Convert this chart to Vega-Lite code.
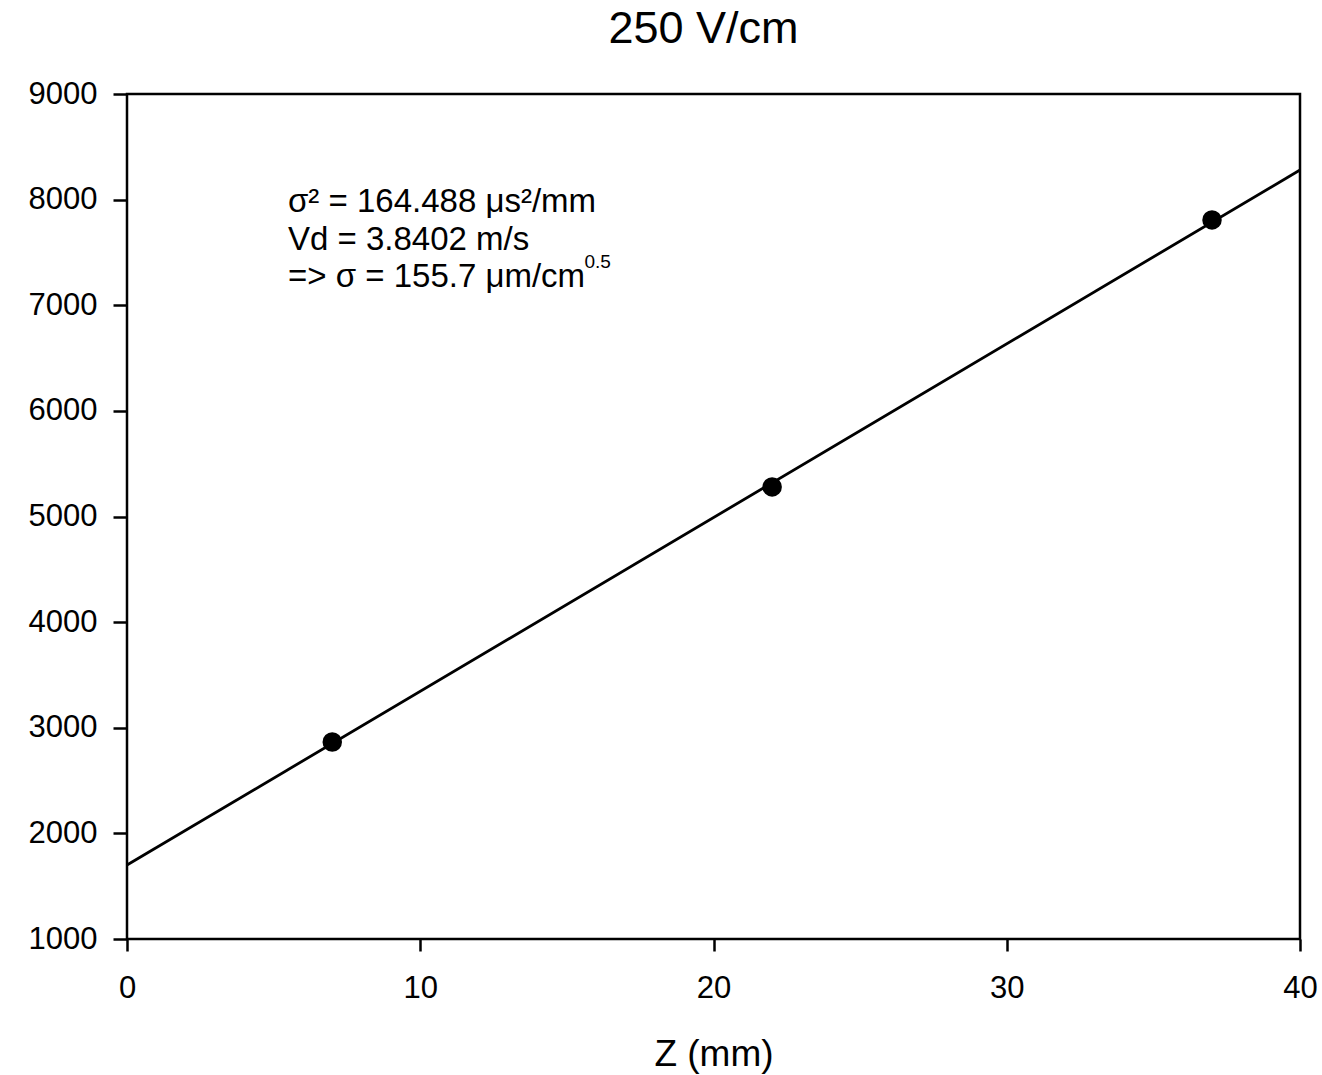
{
  "$schema": "https://vega.github.io/schema/vega-lite/v6.json",
  "width": 1173,
  "height": 845,
  "autosize": "none",
  "padding": {"left": 127, "top": 94, "right": 22, "bottom": 136},
  "background": "white",
  "title": {"text": "250 V/cm", "fontSize": 45, "font": "Liberation Sans", "fontWeight": "normal", "anchor": "middle", "offset": 26, "dx": -10, "color": "black"},
  "config": {
    "view": {"stroke": "black", "strokeWidth": 2.5},
    "axis": {
      "domain": false, "grid": false, "tickColor": "black", "tickWidth": 2.5, "labelFlush": false,
      "labelFont": "Liberation Sans", "labelFontSize": 31, "labelColor": "black",
      "titleFont": "Liberation Sans", "titleFontWeight": "normal", "titleColor": "black"
    }
  },
  "datasets": {
    "points": [{"z": 7, "v": 2865}, {"z": 22, "v": 5280}, {"z": 37, "v": 7808}],
    "fit": [{"z": 0, "v": 1700}, {"z": 40, "v": 8280}],
    "notes": [
      {"x": 5.49, "y": 7977, "t": "σ² = 164.488 μs²/mm"},
      {"x": 5.49, "y": 7618, "t": "Vd = 3.8402 m/s"},
      {"x": 5.49, "y": 7267, "t": "=> σ = 155.7 μm/cm"}
    ],
    "sup": [{"x": 15.6, "y": 7410, "t": "0.5"}]
  },
  "layer": [
    {
      "data": {"name": "fit"},
      "mark": {"type": "line", "color": "black", "strokeWidth": 2.8},
      "encoding": {
        "x": {"field": "z", "type": "quantitative", "scale": {"domain": [0, 40], "nice": false}, "axis": {"values": [0, 10, 20, 30, 40], "title": "Z (mm)", "titleFontSize": 37, "titlePadding": 33, "labelPadding": 22, "tickSize": 12}},
        "y": {"field": "v", "type": "quantitative", "scale": {"domain": [1000, 9000], "nice": false, "zero": false}, "axis": {"values": [1000, 2000, 3000, 4000, 5000, 6000, 7000, 8000, 9000], "format": "d", "title": null, "labelPadding": 16, "tickSize": 14}}
      }
    },
    {
      "data": {"name": "points"},
      "mark": {"type": "point", "filled": true, "color": "black", "opacity": 1, "size": 380, "shape": "circle"},
      "encoding": {
        "x": {"field": "z", "type": "quantitative"},
        "y": {"field": "v", "type": "quantitative"}
      }
    },
    {
      "data": {"name": "notes"},
      "mark": {"type": "text", "align": "left", "baseline": "middle", "font": "Liberation Sans", "fontSize": 33, "color": "black"},
      "encoding": {
        "x": {"field": "x", "type": "quantitative"},
        "y": {"field": "y", "type": "quantitative"},
        "text": {"field": "t"}
      }
    },
    {
      "data": {"name": "sup"},
      "mark": {"type": "text", "align": "left", "baseline": "middle", "font": "Liberation Sans", "fontSize": 19, "color": "black"},
      "encoding": {
        "x": {"field": "x", "type": "quantitative"},
        "y": {"field": "y", "type": "quantitative"},
        "text": {"field": "t"}
      }
    }
  ]
}
